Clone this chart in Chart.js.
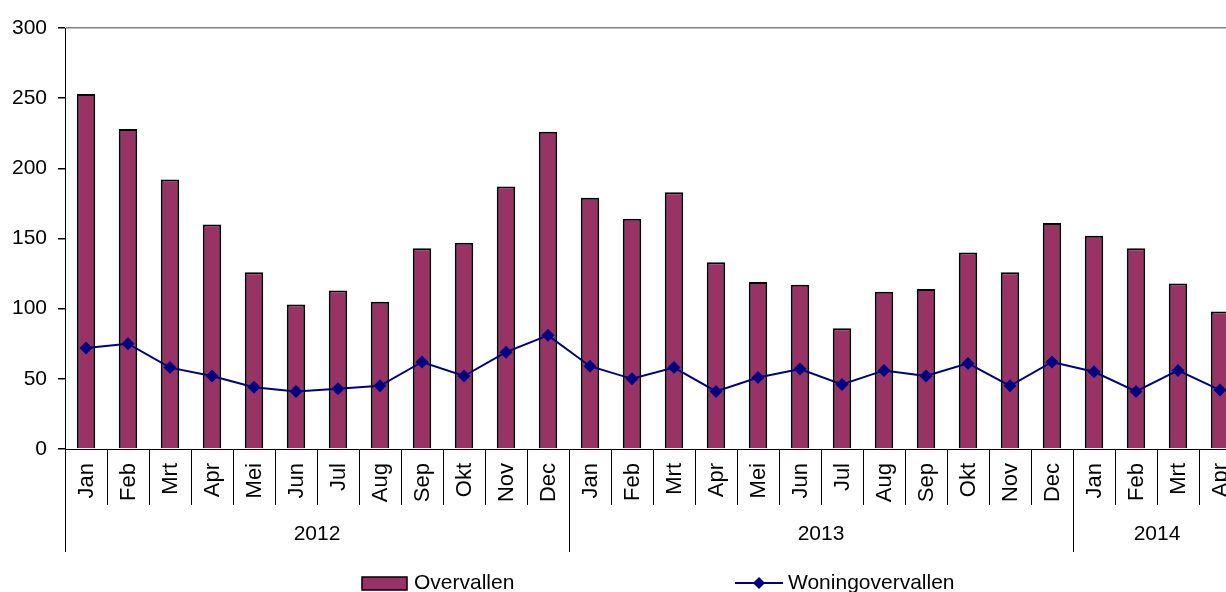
<!DOCTYPE html>
<html>
<head>
<meta charset="utf-8">
<script src="https://cdn.jsdelivr.net/npm/chart.js@4/dist/chart.umd.min.js"></script>
<style>
  html, body { margin: 0; padding: 0; background: #fff; overflow: hidden; }
  #wrap { width: 1250px; height: 592px; position: relative; }
</style>
</head>
<body>
<div id="wrap"><canvas id="overvalChart"></canvas></div>
<script>
// Overvallen per maand, 2012 - april 2014
const months = ['Jan', 'Feb', 'Mrt', 'Apr', 'Mei', 'Jun', 'Jul', 'Aug', 'Sep', 'Okt', 'Nov', 'Dec',
                'Jan', 'Feb', 'Mrt', 'Apr', 'Mei', 'Jun', 'Jul', 'Aug', 'Sep', 'Okt', 'Nov', 'Dec',
                'Jan', 'Feb', 'Mrt', 'Apr'];
const years = ['2012', '2013', '2014'];
const yearSizes = [12, 12, 4];
const overvallen = [253, 228, 192, 160, 126, 103, 113, 105, 143, 147, 187, 226,
                    179, 164, 183, 133, 119, 117, 86, 112, 114, 140, 126, 161,
                    152, 143, 118, 98];
const woningovervallen = [72, 75, 58, 52, 44, 41, 43, 45, 62, 52, 69, 81,
                          59, 50, 58, 41, 51, 57, 46, 56, 52, 61, 45, 62,
                          55, 41, 56, 42];
const yTicks = [0, 50, 100, 150, 200, 250, 300];

const FONT = "'Liberation Sans', Arial, sans-serif";
const PLUM = '#993366';
const NAVY = '#000080';

// draws month labels, year groups and the legend below the axis
const categoryAxis = {
    id: 'categoryAxis',
    afterDraw(chart) {
        const ctx = chart.ctx;
        const xs = chart.scales.x;
        const bottom = chart.chartArea.bottom;
        const half = (xs.getPixelForValue(1) - xs.getPixelForValue(0)) / 2;

        ctx.save();
        ctx.fillStyle = '#000';
        ctx.font = '22px ' + FONT;
        months.forEach((m, i) => {
            ctx.save();
            ctx.translate(xs.getPixelForValue(i) + 1, 463);
            ctx.rotate(-Math.PI / 2);
            ctx.textAlign = 'right';
            ctx.textBaseline = 'middle';
            ctx.fillText(m, 0, 0);
            ctx.restore();
        });

        // year separators and labels
        ctx.strokeStyle = '#000';
        ctx.lineWidth = 1;
        ctx.font = '21px ' + FONT;
        ctx.textAlign = 'center';
        ctx.textBaseline = 'middle';
        let start = 0;
        years.forEach((y, k) => {
            const end = start + yearSizes[k] - 1;
            const x0 = xs.getPixelForValue(start) - half;
            ctx.beginPath();
            ctx.moveTo(Math.round(x0) + 0.5, bottom);
            ctx.lineTo(Math.round(x0) + 0.5, 552);
            ctx.stroke();
            const cx = (xs.getPixelForValue(start) + xs.getPixelForValue(end)) / 2;
            ctx.fillText(y, cx, 534);
            start = end + 1;
        });

        // legend
        ctx.fillStyle = PLUM;
        ctx.fillRect(362, 577, 45, 13);
        ctx.strokeStyle = '#000';
        ctx.lineWidth = 1.5;
        ctx.strokeRect(362, 577, 45, 13);
        ctx.fillStyle = '#000';
        ctx.font = '21px ' + FONT;
        ctx.textAlign = 'left';
        ctx.textBaseline = 'middle';
        ctx.fillText(chart.data.datasets[1].label, 414, 583);

        ctx.strokeStyle = NAVY;
        ctx.lineWidth = 2;
        ctx.beginPath();
        ctx.moveTo(735, 583);
        ctx.lineTo(783, 583);
        ctx.stroke();
        ctx.fillStyle = NAVY;
        ctx.beginPath();
        ctx.moveTo(759, 577);
        ctx.lineTo(765, 583);
        ctx.lineTo(759, 589);
        ctx.lineTo(753, 583);
        ctx.closePath();
        ctx.fill();
        ctx.fillStyle = '#000';
        ctx.fillText(chart.data.datasets[0].label, 788, 583);
        ctx.restore();
    }
};

const chart = new Chart(document.getElementById('overvalChart'), {
    type: 'bar',
    data: {
        labels: months,
        datasets: [{
            type: 'line',
            label: 'Woningovervallen',
            data: woningovervallen,
            borderColor: NAVY,
            backgroundColor: NAVY,
            borderWidth: 2,
            tension: 0,
            pointStyle: 'rectRot',
            pointRadius: 6.5,
            pointBorderWidth: 0,
            pointBackgroundColor: NAVY,
            order: 0
        }, {
            label: 'Overvallen',
            data: overvallen,
            backgroundColor: PLUM,
            borderColor: '#000',
            borderWidth: 2,
            borderSkipped: 'bottom',
            barPercentage: 0.44,
            categoryPercentage: 1,
            order: 1
        }]
    },
    options: {
        responsive: true,
        maintainAspectRatio: false,
        animation: false,
        layout: { padding: { top: 28, right: 9, left: 0, bottom: 0 } },
        plugins: {
            legend: { display: false },
            tooltip: { enabled: false }
        },
        scales: {
            x: {
                offset: true,
                grid: {
                    offset: true,
                    drawOnChartArea: false,
                    drawTicks: true,
                    tickLength: 56,
                    color: '#000',
                    tickColor: '#000'
                },
                border: { color: '#000', width: 1 },
                ticks: { display: false },
                afterFit: (scale) => { scale.height = 143; }
            },
            y: {
                min: 0,
                max: 300,
                afterBuildTicks: (scale) => { scale.ticks = yTicks.map(v => ({ value: v })); },
                grid: {
                    color: (c) => (c.tick && c.tick.value === 300 ? '#808080' : 'rgba(0,0,0,0)'),
                    tickColor: '#000',
                    tickLength: 7,
                    lineWidth: 1.5
                },
                border: { color: '#000', width: 1 },
                ticks: {
                    color: '#000',
                    padding: 11,
                    font: { family: FONT, size: 21 }
                },
                afterFit: (scale) => { scale.width = 65; }
            }
        }
    },
    plugins: [categoryAxis]
});
</script>
</body>
</html>
